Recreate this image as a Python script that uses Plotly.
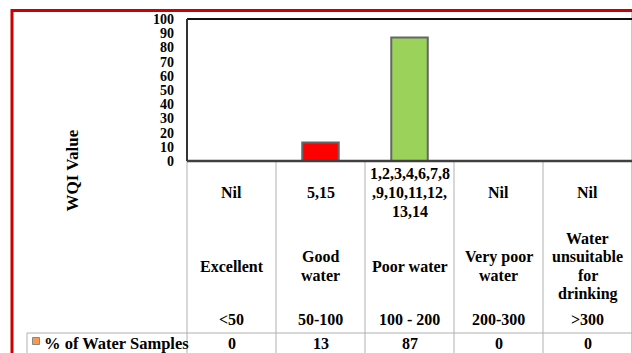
import plotly.graph_objects as go

categories = ["Excellent", "Good water", "Poor water", "Very poor water", "Water unsuitable for drinking"]
category_lines = [["Excellent"], ["Good", "water"], ["Poor water"], ["Very poor", "water"],
                  ["Water", "unsuitable", "for", "drinking"]]
sample_id_lines = [["Nil"], ["5,15"], ["1,2,3,4,6,7,8", ",9,10,11,12,", "13,14"], ["Nil"], ["Nil"]]
wqi_ranges = ["<50", "50-100", "100 - 200", "200-300", ">300"]
pct_samples = [0, 13, 87, 0, 0]
bar_colors = ["#FF0000", "#FF0000", "#9BD35A", "#9BD35A", "#9BD35A"]
y_ticks = [0, 10, 20, 30, 40, 50, 60, 70, 80, 90, 100]
series_name = "% of Water Samples"

W, H = 632, 353
def px(x):
    return x / W
def py(y):
    return (H - y) / H

FONT = "Liberation Serif"
PL, PR, PT, PB = 187, 632, 19, 161

fig = go.Figure()
fig.add_trace(go.Bar(
    x=categories, y=pct_samples, width=0.41,
    marker=dict(color=bar_colors, line=dict(color="#666666", width=2)),
    showlegend=False, name=series_name,
))

shapes = []
# outer red border
shapes.append(dict(type="rect", xref="paper", yref="paper", x0=px(12), x1=px(640), y0=py(365), y1=py(10.5),
                   line=dict(color="#CC0000", width=3), layer="below"))
shapes.append(dict(type="line", xref="paper", yref="paper", x0=px(631.5), x1=px(631.5), y0=py(12), y1=py(353),
                   line=dict(color="#F0B8B8", width=1)))
# table grid lines (gray)
grid = "#B0B0B0"
col_edges = [187, 276, 365, 454, 543]
for xe in col_edges:
    shapes.append(dict(type="line", xref="paper", yref="paper", x0=px(xe), x1=px(xe), y0=py(PB), y1=py(353),
                       line=dict(color=grid, width=1)))
shapes.append(dict(type="line", xref="paper", yref="paper", x0=px(27), x1=px(27), y0=py(333), y1=py(353),
                   line=dict(color=grid, width=1)))
shapes.append(dict(type="line", xref="paper", yref="paper", x0=px(27), x1=px(632), y0=py(333), y1=py(333),
                   line=dict(color=grid, width=1)))
# plot frame: top, left and bottom dark lines
shapes.append(dict(type="line", xref="paper", yref="paper", x0=px(PL), x1=px(632), y0=py(PT), y1=py(PT),
                   line=dict(color="#111111", width=2)))
shapes.append(dict(type="line", xref="paper", yref="paper", x0=px(PL), x1=px(PL), y0=py(PT), y1=py(PB),
                   line=dict(color="#333333", width=2)))
shapes.append(dict(type="line", xref="paper", yref="paper", x0=px(PL), x1=px(632), y0=py(PB), y1=py(PB),
                   line=dict(color="#404040", width=2.5)))
# legend key
shapes.append(dict(type="rect", xref="paper", yref="paper", x0=px(32.5), x1=px(39.5), y0=py(344.5), y1=py(337.5),
                   fillcolor="#F79A50", line=dict(color="#888888", width=1)))

annotations = []
fnt = dict(family=FONT, size=16, color="black")
def add_lines(cat, lines, center, spacing):
    n = len(lines)
    for k, t in enumerate(lines):
        yy = center + (k - (n - 1) / 2) * spacing
        annotations.append(dict(x=cat, xref="x", y=py(yy), yref="paper", text="<b>%s</b>" % t,
                                showarrow=False, font=fnt, yanchor="middle", xanchor="center"))

for i, c in enumerate(categories):
    add_lines(c, sample_id_lines[i], 192.5, 19.5)
    add_lines(c, category_lines[i], 266, 18.5)
    add_lines(c, [wqi_ranges[i]], 319.5, 18)
    add_lines(c, [str(pct_samples[i])], 343.5, 18)
annotations.append(dict(x=px(42), xref="paper", y=py(343.5), yref="paper", text="<b>%s</b>" % series_name,
                        showarrow=False, font=dict(family=FONT, size=16.5, color="black"),
                        yanchor="middle", xanchor="left"))
annotations.append(dict(x=px(72), xref="paper", y=py(170.5), yref="paper", text="<b>WQI Value</b>",
                        showarrow=False, font=dict(family=FONT, size=17, color="black"), textangle=-90,
                        yanchor="middle", xanchor="center"))

fig.update_layout(
    width=W, height=H, margin=dict(l=0, r=0, t=0, b=0, autoexpand=False),
    paper_bgcolor="white", plot_bgcolor="white",
    shapes=shapes, annotations=annotations,
    xaxis=dict(domain=[px(PL), px(PR)], range=[-0.5, 4.5], showticklabels=False, showgrid=False,
               zeroline=False, showline=False, ticks="", fixedrange=True, automargin=False),
    yaxis=dict(domain=[py(PB), py(PT)], range=[0, 100], tickvals=y_ticks,
               ticktext=["<b>%d</b>" % v for v in y_ticks], showgrid=False, zeroline=False,
               showline=False, ticks="", ticklabelstandoff=12, automargin=False, fixedrange=True,
               tickfont=dict(family=FONT, size=14, color="black")),
    bargap=0.59,
)

fig.write_html("out.html", config={"displayModeBar": False},
               post_script="document.body.style.margin='0';document.body.style.overflow='hidden';")
